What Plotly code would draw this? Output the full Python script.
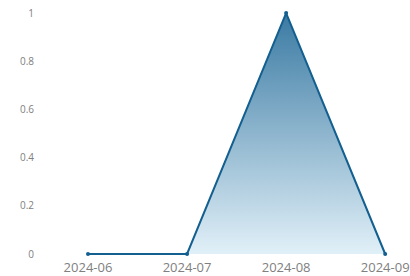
import plotly.graph_objects as go

months = ["2024-06", "2024-07", "2024-08", "2024-09"]
values = [0, 0, 1, 0]
y_ticks = [0, 0.2, 0.4, 0.6, 0.8, 1]
y_tick_text = ["0", "0.2", "0.4", "0.6", "0.8", "1"]

fig = go.Figure()
fig.add_trace(go.Scatter(
    x=months, y=values, mode="lines+markers",
    line=dict(color="#135f8f", width=2),
    marker=dict(color="#135f8f", size=4),
    fill="tozeroy",
    fillgradient=dict(type="vertical",
                      colorscale=[[0, "rgba(225,240,248,1)"], [1, "rgba(58,122,163,1)"]]),
    cliponaxis=False,
    hoverinfo="skip",
))
fig.update_layout(
    width=410, height=276,
    margin=dict(l=35, r=5, t=10, b=20, autoexpand=False),
    paper_bgcolor="white", plot_bgcolor="white",
    showlegend=False,
    font=dict(family="Open Sans", color="#808080"),
)
fig.update_xaxes(type="category", range=[-0.535, 3.2], showgrid=False, zeroline=False,
                 showline=False, ticks="", ticklabeloverflow="allow", ticklabelstandoff=2,
                 automargin=False, tickfont=dict(size=13, color="#808080"))
fig.update_yaxes(range=[-0.0083, 1.0125], showgrid=False, zeroline=False, showline=False,
                 tickvals=y_ticks, ticktext=y_tick_text, ticks="", ticklabeloverflow="allow",
                 automargin=False, tickfont=dict(size=10, color="#808080"))
fig.write_html("out.html", config={"displayModeBar": False},
               post_script="document.body.style.margin='0';document.body.style.overflow='hidden';")
